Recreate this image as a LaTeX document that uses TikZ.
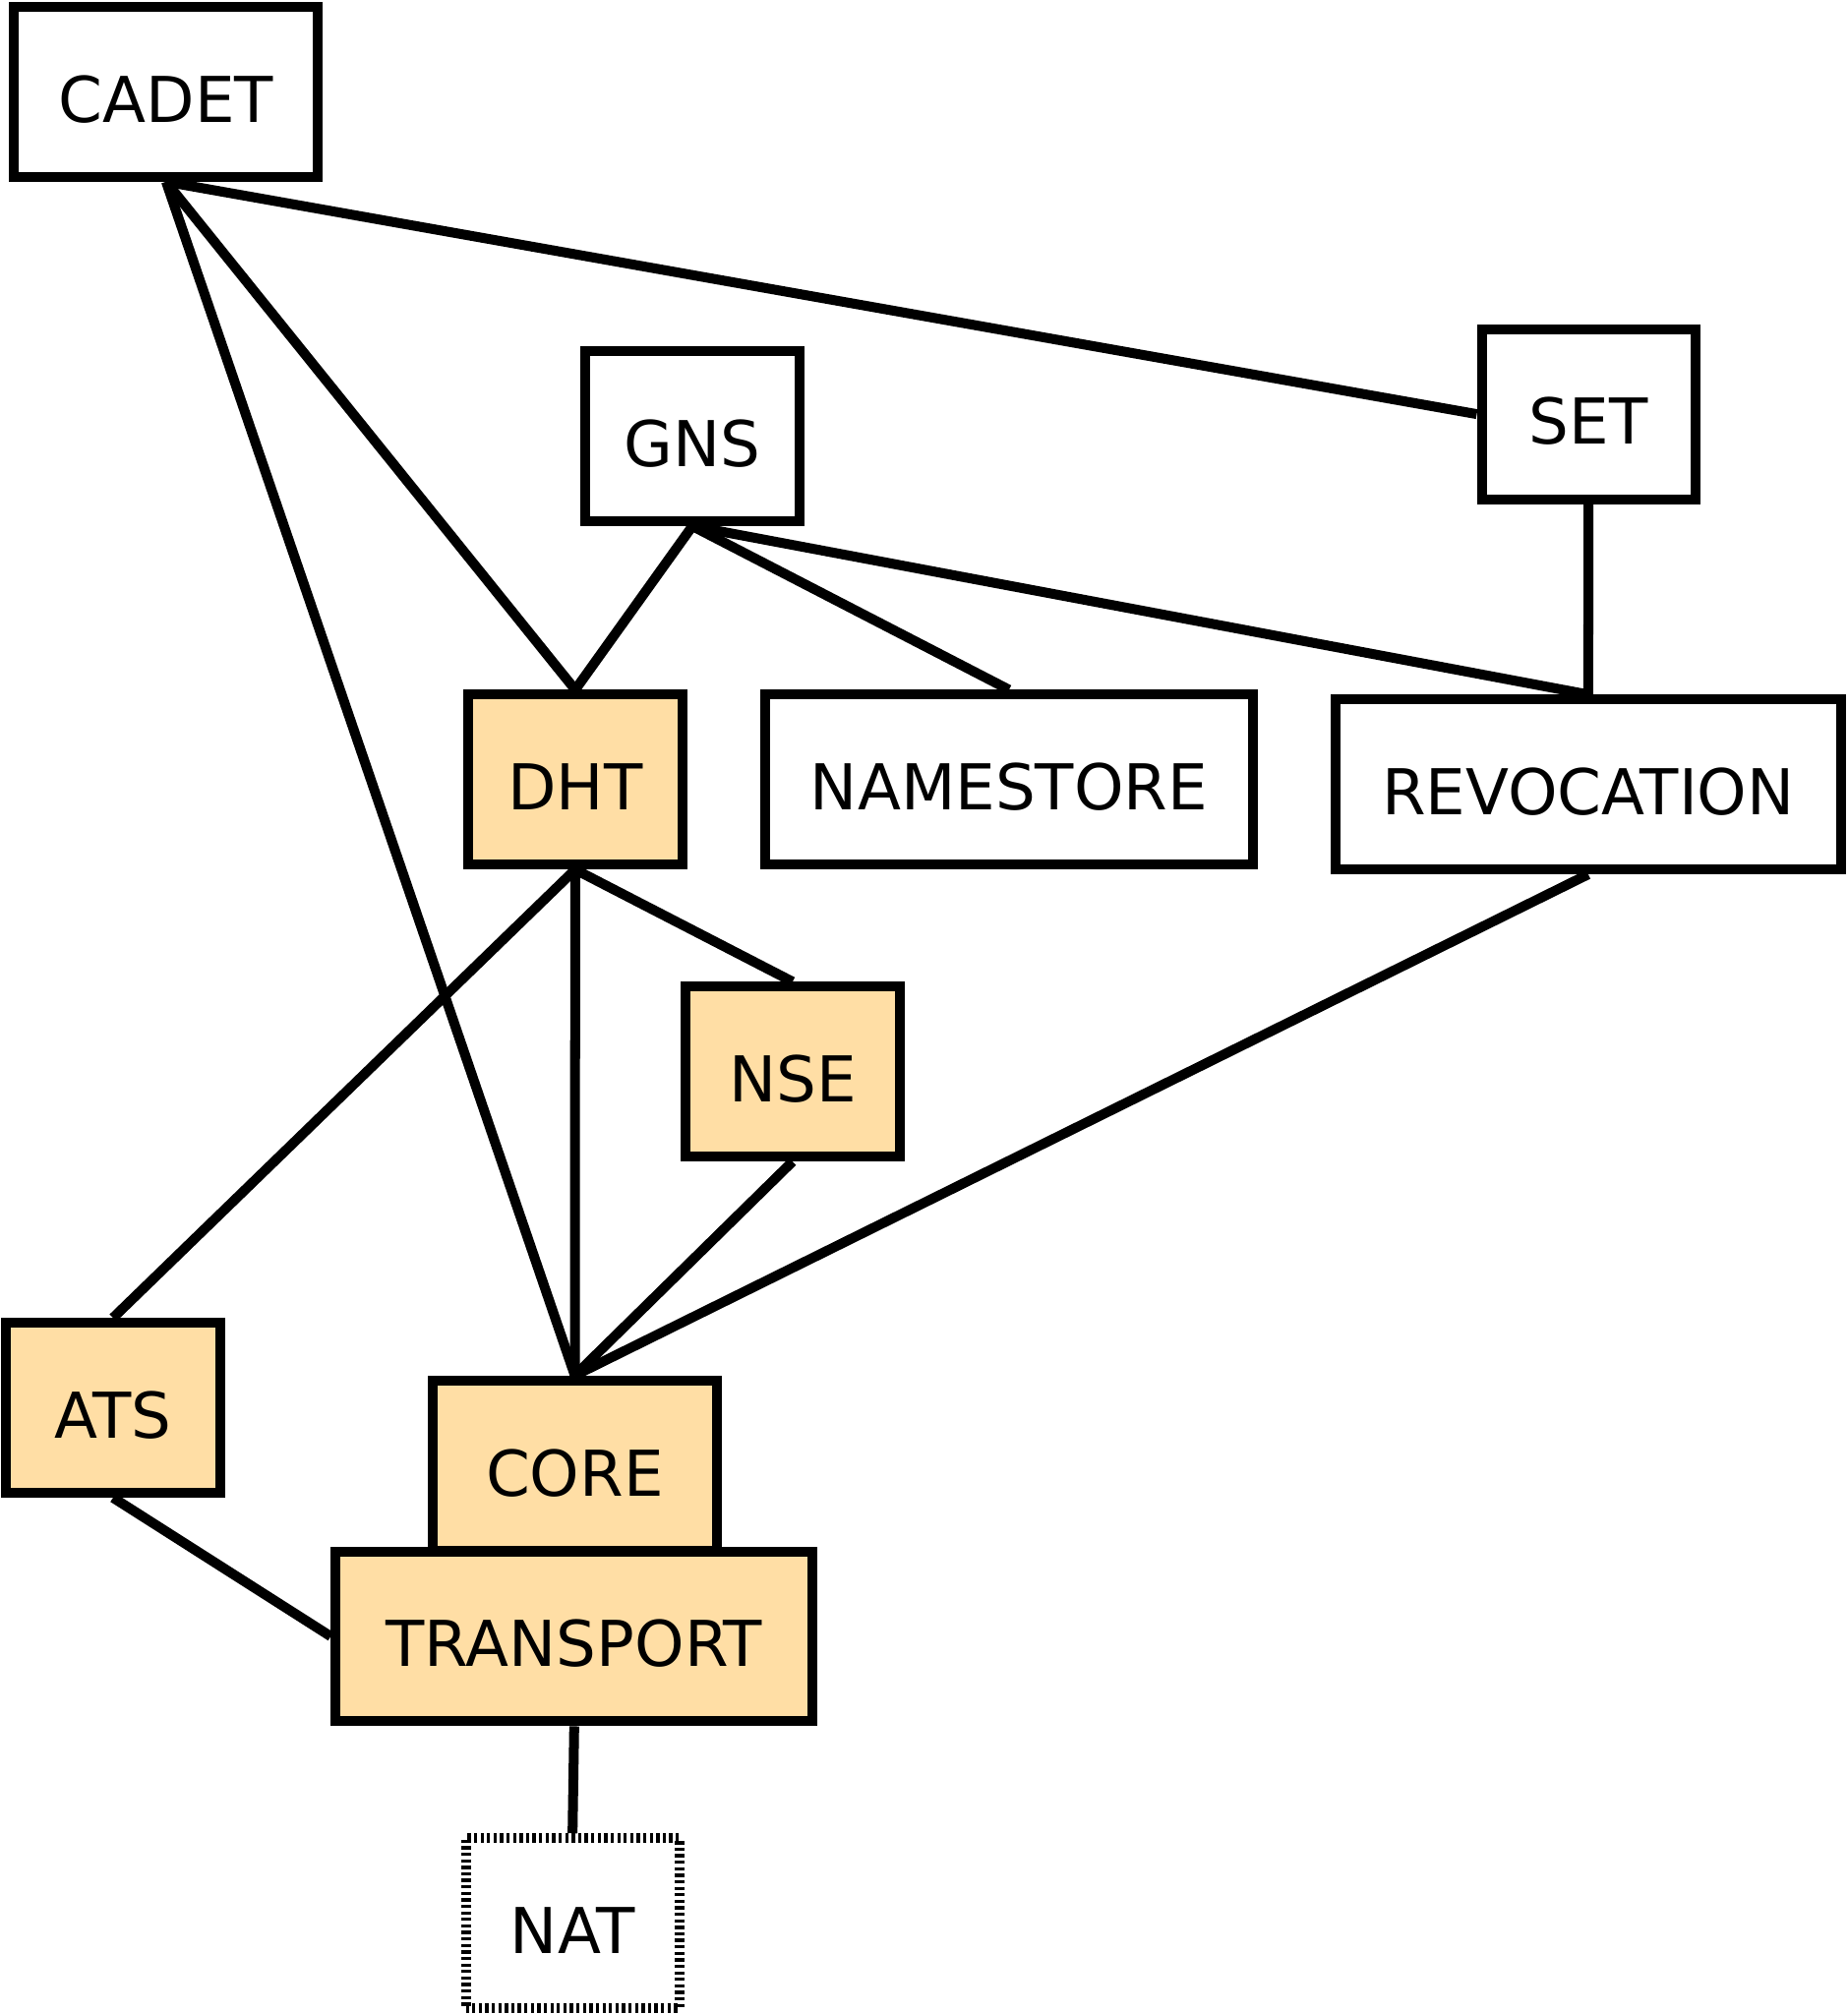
\documentclass[tikz,border=0pt]{standalone}
\usepackage{fontspec}
\setmainfont{DejaVu Sans}
\definecolor{modfill}{RGB}{255,222,165}
\begin{document}
\begin{tikzpicture}[x=0.03cm,y=-0.03cm,line width=0.23cm,
        base/.style={rectangle,draw,line width=0.23cm,minimum height=3.97cm,
            minimum width=4.99cm,inner sep=0pt,text height=1.41cm,text depth=0pt,
            font=\fontsize{42}{50}\selectfont},
        service/.style={base},
        lowlevel/.style={base,fill=modfill},
        external/.style={base,dash pattern=on 0.076cm off 0.076cm},
        link/.style={line width=0.23cm}]
        \useasboundingbox (0,0) rectangle (1438,1568);
        % Upper services
        \node[service,minimum width=7.1cm] (cadet) at (129.3,71.5) {CADET};
        \node[service] (gns) at (539,339.6) {GNS};
        \node[service] (set) at (1236.6,322.4) {SET};
        \node[lowlevel] (dht) at (447.8,607) {DHT};
        \node[service,minimum width=11.4cm] (namestore) at (785.5,607) {NAMESTORE};
        \node[service,minimum width=11.8cm] (revocation) at (1236.4,610.7) {REVOCATION};
        % Lower layers
        \node[lowlevel] (nse) at (617,834.3) {NSE};
        \node[lowlevel] (ats) at (88,1096) {ATS};
        \node[lowlevel,minimum width=6.66cm,minimum height=3.99cm] (core) at (447.5,1141.2) {CORE};
        \node[lowlevel,minimum width=11.14cm] (transport) at (447,1274) {TRANSPORT};
        \node[external] (nat) at (445.7,1497.3) {NAT};
        % Dependencies
        \draw[link] (cadet.south) -- (set.west);
        \draw[link] (cadet.south) -- (dht.north);
        \draw[link] (cadet.south) -- (core.north);
        \draw[link] (gns.south) -- (dht.north);
        \draw[link] (gns.south) -- (namestore.north);
        \draw[link] (gns.south) -- (revocation.north);
        \draw[link] (set.south) -- (revocation.north);
        \draw[link] (dht.south) -- (ats.north);
        \draw[link] (dht.south) -- (core.north);
        \draw[link] (dht.south) -- (nse.north);
        \draw[link] (nse.south) -- (core.north);
        \draw[link] (revocation.south) -- (core.north);
        \draw[link] (ats.south) -- (transport.west);
        \draw[link] (transport.south) -- (nat.north);
    \end{tikzpicture}
\end{document}
